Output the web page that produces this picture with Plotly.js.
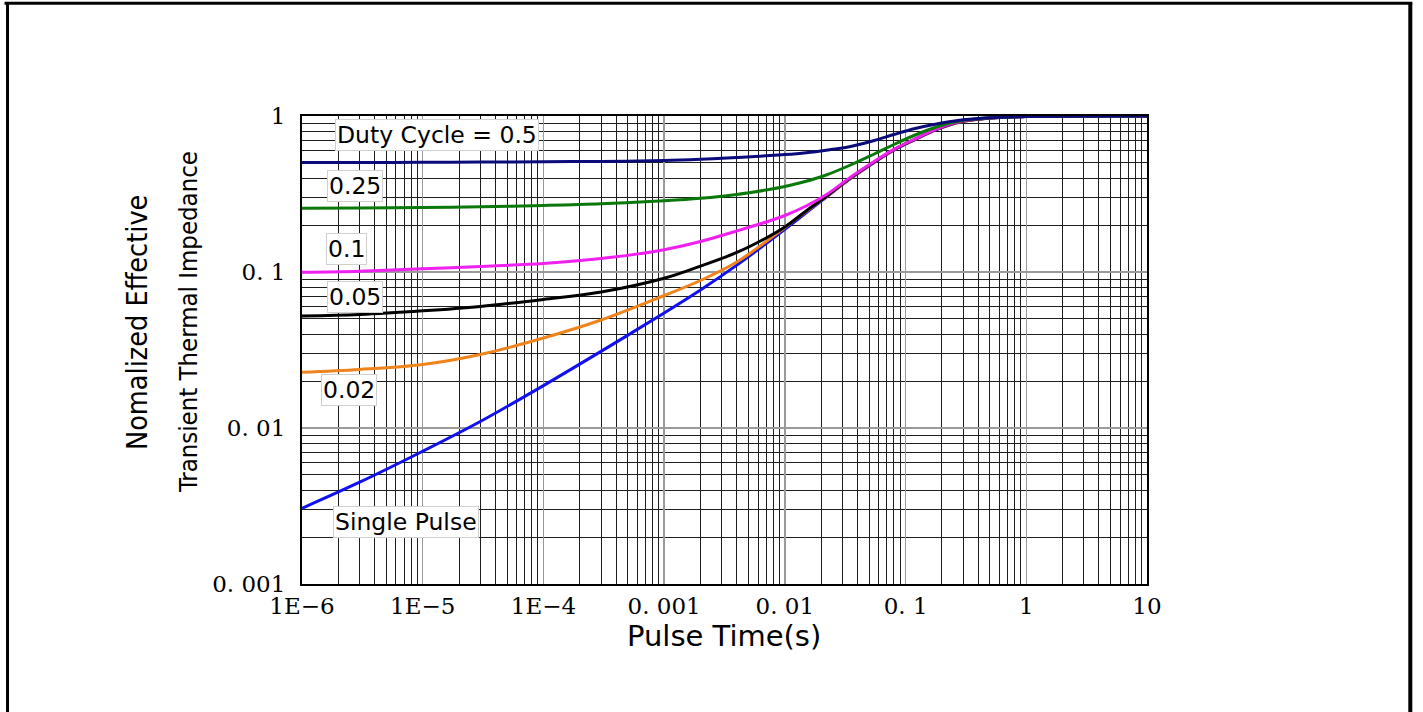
<!DOCTYPE html>
<html>
<head>
<meta charset="utf-8">
<script src="https://cdn.plot.ly/plotly-3.0.1.min.js"></script>
<style>
html,body{margin:0;padding:0;background:#fff;}
#chart{width:1423px;height:712px;}
</style>
</head>
<body>
<div id="chart"></div>
<script>
// Pulse time (s) sample positions
const pulseTime = [1e-6, 3e-6, 1e-5, 3e-5, 1e-4, 3e-4, 1e-3, 2e-3, 4e-3, 7e-3, 1e-2, 1.5e-2, 2.2e-2, 3.5e-2, 5.5e-2, 0.08, 0.12, 0.18, 0.28, 0.5, 1, 10];

// Normalized effective transient thermal impedance, one array per duty cycle
const duty050 = [0.5028, 0.5035, 0.5050, 0.5066, 0.5088, 0.5117, 0.5182, 0.5279, 0.5420, 0.5556, 0.5656, 0.5816, 0.6035, 0.6375, 0.6967, 0.7609, 0.8317, 0.8887, 0.9385, 0.9738, 0.9912, 1.0];
const duty025 = [0.2561, 0.2572, 0.2591, 0.2618, 0.2669, 0.2736, 0.2861, 0.2967, 0.3139, 0.3354, 0.3532, 0.3815, 0.4184, 0.4852, 0.5707, 0.6567, 0.7554, 0.8502, 0.9289, 0.9738, 0.9926, 1.0];
const duty010 = [0.09956, 0.1012, 0.1048, 0.1085, 0.1134, 0.1220, 0.1390, 0.1568, 0.1832, 0.2092, 0.2302, 0.2649, 0.3125, 0.4053, 0.511, 0.611, 0.713, 0.825, 0.921, 0.972, 0.994, 1.0];
const duty005 = [0.05223, 0.05339, 0.05635, 0.06017, 0.06668, 0.07441, 0.0912, 0.1091, 0.1334, 0.1652, 0.1943, 0.2461, 0.3048, 0.4017, 0.508, 0.608, 0.710, 0.822, 0.917, 0.971, 0.994, 1.0];
const duty002 = [0.02275, 0.02371, 0.02553, 0.02959, 0.03775, 0.04926, 0.07068, 0.08821, 0.1159, 0.1568, 0.1929, 0.2442, 0.3039, 0.3987, 0.506, 0.606, 0.708, 0.820, 0.914, 0.970, 0.993, 1.0];
const singlePulse = [0.003057, 0.004491, 0.007096, 0.01101, 0.01870, 0.03099, 0.05459, 0.07666, 0.1107, 0.1523, 0.1879, 0.2397, 0.3015, 0.3967, 0.5039, 0.6034, 0.706, 0.818, 0.912, 0.969, 0.993, 1.0];

// Curve labels and colours (drawn bottom to top)
const seriesNames = ["Single Pulse", "0.02", "0.05", "0.1", "0.25", "Duty Cycle = 0.5"];
const seriesValues = [singlePulse, duty002, duty005, duty010, duty025, duty050];
const seriesColors = ["#1010f0", "#f0841c", "#000000", "#f020f0", "#0a780a", "#0a0a7a"];

// Axis tick labels
const xTickVals = [1e-6, 1e-5, 1e-4, 1e-3, 1e-2, 0.1, 1, 10];
const xTickText = ["1E\u22126", "1E\u22125", "1E\u22124", "0. 001", "0. 01", "0. 1", "1", "10"];
const yTickVals = [0.001, 0.01, 0.1, 1];
const yTickText = ["0. 001", "0. 01", "0. 1", "1"];

const traces = seriesValues.map((vals, i) => ({
  x: pulseTime,
  y: vals,
  type: "scatter",
  mode: "lines",
  name: seriesNames[i],
  line: {color: seriesColors[i], width: 3, shape: "spline", smoothing: 1.0},
  hoverinfo: "x+y+name"
}));

// Label placements (paper coordinates)
const labelPos = [
  {x: 0.1230, y: 0.1325},
  {x: 0.0553, y: 0.4135},
  {x: 0.0627, y: 0.6132},
  {x: 0.0529, y: 0.7165},
  {x: 0.0627, y: 0.8504},
  {x: 0.1600, y: 0.9594}
];

const annotations = seriesNames.map((t, i) => ({
  text: t, xref: "paper", yref: "paper", x: labelPos[i].x, y: labelPos[i].y,
  showarrow: false, xanchor: "center", yanchor: "middle",
  font: {family: "DejaVu Sans, Verdana, sans-serif", size: 23.5, color: "#000"},
  bgcolor: "#ffffff", bordercolor: "#d0d0d0", borderwidth: 1, borderpad: 1
}));

const titleFont = "Liberation Sans Narrow, DejaVu Sans Condensed, Arial Narrow, sans-serif";
annotations.push(
  {text: "Nomalized Effective", xref: "paper", yref: "paper", x: -0.1953, y: 0.5598,
   textangle: -90, showarrow: false, xanchor: "center", yanchor: "middle",
   font: {family: titleFont, size: 28.5, color: "#000"}},
  {text: "Transient Thermal Impedance", xref: "paper", yref: "paper", x: -0.1349, y: 0.5598,
   textangle: -90, showarrow: false, xanchor: "center", yanchor: "middle",
   font: {family: titleFont, size: 25.5, color: "#000"}},
  {text: "Pulse Time(s)", xref: "paper", yref: "paper", x: 0.4994, y: -0.1111,
   showarrow: false, xanchor: "center", yanchor: "middle",
   font: {family: "DejaVu Sans, Verdana, sans-serif", size: 29, color: "#000"}}
);

const frame = {color: "#000", width: 3};
const shapes = [
  {type: "line", xref: "paper", yref: "paper", x0: -0.3485, x1: -0.3485, y0: 1.2408, y1: -0.35, line: frame},
  {type: "line", xref: "paper", yref: "paper", x0: -0.352, x1: 1.3140, y0: 1.2408, y1: 1.2408, line: frame},
  {type: "line", xref: "paper", yref: "paper", x0: 1.3116, x1: 1.3116, y0: 1.2408, y1: -0.35, line: {color: "#000", width: 4}}
];

const tickFont = {family: "DejaVu Serif, Liberation Serif, serif", size: 23, color: "#000"};

const layout = {
  width: 1423, height: 712,
  margin: {l: 302, r: 276, t: 116, b: 128, pad: 0},
  paper_bgcolor: "#ffffff", plot_bgcolor: "#ffffff",
  showlegend: false,
  xaxis: {
    type: "log", range: [-6, 1],
    tickmode: "array", tickvals: xTickVals, ticktext: xTickText,
    tickfont: tickFont, ticks: "", ticklabelstandoff: 0,
    showgrid: true, gridcolor: "#9a9a9a", gridwidth: 1.5,
    minor: {tickmode: "linear", dtick: "D1", showgrid: true, gridcolor: "#1e1e1e", gridwidth: 1, ticks: ""},
    showline: true, linecolor: "#000", linewidth: 2, mirror: true, zeroline: false
  },
  yaxis: {
    type: "log", range: [-3, 0],
    tickmode: "array", tickvals: yTickVals, ticktext: yTickText,
    tickfont: tickFont, ticks: "", ticklabelstandoff: 10,
    showgrid: true, gridcolor: "#9a9a9a", gridwidth: 1.5,
    minor: {tickmode: "linear", dtick: "D1", showgrid: true, gridcolor: "#1e1e1e", gridwidth: 1, ticks: ""},
    showline: true, linecolor: "#000", linewidth: 2, mirror: true, zeroline: false
  },
  annotations: annotations,
  shapes: shapes
};

Plotly.newPlot("chart", traces, layout, {displayModeBar: false, staticPlot: true});
</script>
</body>
</html>
